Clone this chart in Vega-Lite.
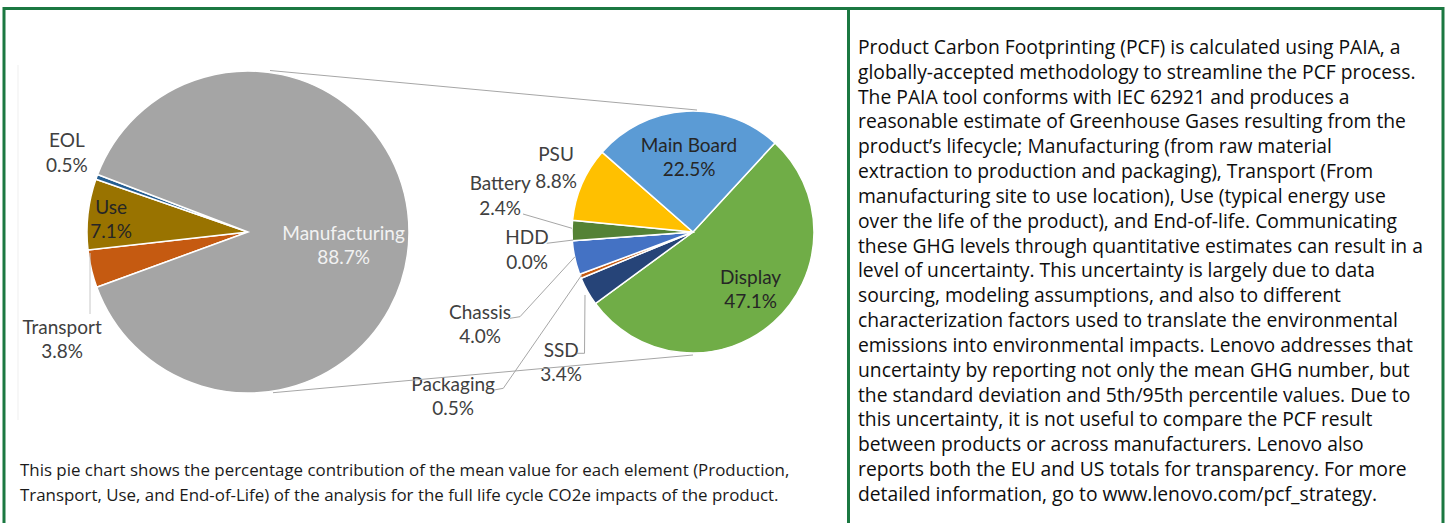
{
  "$schema": "https://vega.github.io/schema/vega-lite/v6.json",
  "width": 1445,
  "height": 523,
  "autosize": {"type": "none"},
  "padding": 0,
  "background": "white",
  "config": {"view": {"stroke": null}},
  "layer": [
    {
      "data": {"values": [
        {"name": "Transport", "value": 3.8, "ord": 1},
        {"name": "Use", "value": 7.1, "ord": 2},
        {"name": "EOL", "value": 0.5, "ord": 3},
        {"name": "Manufacturing", "value": 88.7, "ord": 4}
      ]},
      "transform": [{"calculate": "datum.name + '\\n' + format(datum.value, '.1f') + '%'", "as": "label"}],
      "encoding": {
        "theta": {"field": "value", "type": "quantitative", "stack": true, "scale": {"domain": [0, 100.1], "range": [4.3621, 10.6453]}},
        "order": {"field": "ord", "type": "quantitative"},
        "color": {"field": "name", "type": "nominal", "legend": null,
          "scale": {"domain": ["Manufacturing", "Use", "Transport", "EOL", "Main Board", "PSU", "Battery", "HDD", "Chassis", "Packaging", "SSD", "Display"],
                    "range": ["#A5A5A5", "#997300", "#C55A11", "#255E91", "#5B9BD5", "#FFC000", "#548235", "#636363", "#4472C4", "#C55A11", "#264478", "#70AD47"]}}
      },
      "layer": [
        {"mark": {"type": "arc", "x": 248, "y": 232, "outerRadius": 161, "stroke": "#FFFFFF", "strokeWidth": 1.5}},
        {"mark": {"type": "text", "x": 248, "y": 232, "radius": 96.5, "thetaOffset": 0.133, "dy": -12, "font": "Lato", "fontSize": 19, "lineBreak": "\n", "lineHeight": 24, "align": "center", "baseline": "middle"},
         "encoding": {"text": {"condition": {"test": "datum.name === 'Manufacturing'", "field": "label"}, "value": ""}, "color": {"value": "#F2F2F2"}}},
        {"mark": {"type": "text", "x": 248, "y": 232, "radius": 137.5, "thetaOffset": -0.024, "dy": -12, "font": "Lato", "fontSize": 19, "lineBreak": "\n", "lineHeight": 24, "align": "center", "baseline": "middle"},
         "encoding": {"text": {"condition": {"test": "datum.name === 'Use'", "field": "label"}, "value": ""}, "color": {"value": "#262626"}}},
        {"mark": {"type": "text", "x": 248, "y": 232, "radius": 197.7, "thetaOffset": 0.063, "dy": -12, "font": "Lato", "fontSize": 19, "lineBreak": "\n", "lineHeight": 25, "align": "center", "baseline": "middle"},
         "encoding": {"text": {"condition": {"test": "datum.name === 'EOL'", "field": "label"}, "value": ""}, "color": {"value": "#404040"}}},
        {"mark": {"type": "text", "x": 248, "y": 232, "radius": 215, "thetaOffset": -0.295, "dy": -12, "font": "Lato", "fontSize": 19, "lineBreak": "\n", "lineHeight": 24, "align": "center", "baseline": "middle"},
         "encoding": {"text": {"condition": {"test": "datum.name === 'Transport'", "field": "label"}, "value": ""}, "color": {"value": "#404040"}}}
      ]
    },
    {
      "data": {"values": [
        {"name": "Display", "value": 47.1, "ord": 1},
        {"name": "SSD", "value": 3.4, "ord": 2},
        {"name": "Packaging", "value": 0.5, "ord": 3},
        {"name": "Chassis", "value": 4.0, "ord": 4},
        {"name": "HDD", "value": 0.0, "ord": 5},
        {"name": "Battery", "value": 2.4, "ord": 6},
        {"name": "PSU", "value": 8.8, "ord": 7},
        {"name": "Main Board", "value": 22.5, "ord": 8}
      ]},
      "transform": [{"calculate": "datum.name + '\\n' + format(datum.value, '.1f') + '%'", "as": "label"}],
      "encoding": {
        "theta": {"field": "value", "type": "quantitative", "stack": true, "scale": {"domain": [0, 88.7], "range": [0.7435, 7.0267]}},
        "order": {"field": "ord", "type": "quantitative"},
        "color": {"field": "name", "type": "nominal", "legend": null,
          "scale": {"domain": ["Manufacturing", "Use", "Transport", "EOL", "Main Board", "PSU", "Battery", "HDD", "Chassis", "Packaging", "SSD", "Display"],
                    "range": ["#A5A5A5", "#997300", "#C55A11", "#255E91", "#5B9BD5", "#FFC000", "#548235", "#636363", "#4472C4", "#C55A11", "#264478", "#70AD47"]}}
      },
      "layer": [
        {"mark": {"type": "arc", "x": 693, "y": 232, "outerRadius": 121, "stroke": "#FFFFFF", "strokeWidth": 1.5}},
        {"mark": {"type": "text", "x": 693, "y": 232, "radius": 74, "thetaOffset": 0.0, "dy": -12, "font": "Lato", "fontSize": 19, "lineBreak": "\n", "lineHeight": 24, "align": "center", "baseline": "middle"},
         "encoding": {"text": {"condition": {"test": "datum.name === 'Main Board'", "field": "label"}, "value": ""}, "color": {"value": "#262626"}}},
        {"mark": {"type": "text", "x": 693, "y": 232, "radius": 81.7, "thetaOffset": -0.052, "dy": -12, "font": "Lato", "fontSize": 19, "lineBreak": "\n", "lineHeight": 24, "align": "center", "baseline": "middle"},
         "encoding": {"text": {"condition": {"test": "datum.name === 'Display'", "field": "label"}, "value": ""}, "color": {"value": "#262626"}}},
        {"mark": {"type": "text", "x": 693, "y": 232, "radius": 151, "thetaOffset": 0.026, "dy": -13.5, "font": "Lato", "fontSize": 19, "lineBreak": "\n", "lineHeight": 27, "align": "center", "baseline": "middle"},
         "encoding": {"text": {"condition": {"test": "datum.name === 'PSU'", "field": "label"}, "value": ""}, "color": {"value": "#404040"}}},
        {"mark": {"type": "text", "x": 693, "y": 232, "radius": 196, "thetaOffset": 0.169, "dy": -12.5, "font": "Lato", "fontSize": 19, "lineBreak": "\n", "lineHeight": 25, "align": "center", "baseline": "middle"},
         "encoding": {"text": {"condition": {"test": "datum.name === 'Battery'", "field": "label"}, "value": ""}, "color": {"value": "#404040"}}},
        {"mark": {"type": "text", "x": 693, "y": 232, "radius": 167, "thetaOffset": -0.038, "dy": -12.5, "font": "Lato", "fontSize": 19, "lineBreak": "\n", "lineHeight": 25, "align": "center", "baseline": "middle"},
         "encoding": {"text": {"condition": {"test": "datum.name === 'HDD'", "field": "label"}, "value": ""}, "color": {"value": "#404040"}}},
        {"mark": {"type": "text", "x": 693, "y": 232, "radius": 232.4, "thetaOffset": -0.197, "dy": -12, "font": "Lato", "fontSize": 19, "lineBreak": "\n", "lineHeight": 24, "align": "center", "baseline": "middle"},
         "encoding": {"text": {"condition": {"test": "datum.name === 'Chassis'", "field": "label"}, "value": ""}, "color": {"value": "#404040"}}},
        {"mark": {"type": "text", "x": 693, "y": 232, "radius": 291.2, "thetaOffset": -0.229, "dy": -12, "font": "Lato", "fontSize": 19, "lineBreak": "\n", "lineHeight": 24, "align": "center", "baseline": "middle"},
         "encoding": {"text": {"condition": {"test": "datum.name === 'Packaging'", "field": "label"}, "value": ""}, "color": {"value": "#404040"}}},
        {"mark": {"type": "text", "x": 693, "y": 232, "radius": 186, "thetaOffset": -0.271, "dy": -12, "font": "Lato", "fontSize": 19, "lineBreak": "\n", "lineHeight": 24, "align": "center", "baseline": "middle"},
         "encoding": {"text": {"condition": {"test": "datum.name === 'SSD'", "field": "label"}, "value": ""}, "color": {"value": "#404040"}}}
      ]
    },
    {"data": {"values": [{}]}, "mark": {"type": "rule", "stroke": "#A6A6A6", "strokeWidth": 1}, "encoding": {"x": {"value": 270}, "y": {"value": 70.5}, "x2": {"value": 697}, "y2": {"value": 110}}},
    {"data": {"values": [{}]}, "mark": {"type": "rule", "stroke": "#A6A6A6", "strokeWidth": 1}, "encoding": {"x": {"value": 273}, "y": {"value": 392.7}, "x2": {"value": 693}, "y2": {"value": 355}}},
    {"data": {"values": [{}]}, "mark": {"type": "rule", "stroke": "#C8C8C8", "strokeWidth": 1}, "encoding": {"x": {"value": 90}, "y": {"value": 253}, "x2": {"value": 90}, "y2": {"value": 314}}},
    {"data": {"values": [{}]}, "mark": {"type": "rule", "stroke": "#EFEFEF", "strokeWidth": 1}, "encoding": {"x": {"value": 18}, "y": {"value": 65}, "x2": {"value": 18}, "y2": {"value": 420}}},
    {"data": {"values": [{}]}, "mark": {"type": "rule", "stroke": "#A6A6A6", "strokeWidth": 1}, "encoding": {"x": {"value": 523}, "y": {"value": 214}, "x2": {"value": 572}, "y2": {"value": 228.3}}},
    {"data": {"values": [{}]}, "mark": {"type": "rule", "stroke": "#A6A6A6", "strokeWidth": 1}, "encoding": {"x": {"value": 546.7}, "y": {"value": 243.3}, "x2": {"value": 573.3}, "y2": {"value": 240}}},
    {"data": {"values": [{}]}, "mark": {"type": "rule", "stroke": "#A6A6A6", "strokeWidth": 1}, "encoding": {"x": {"value": 510}, "y": {"value": 318.3}, "x2": {"value": 520}, "y2": {"value": 316.7}}},
    {"data": {"values": [{}]}, "mark": {"type": "rule", "stroke": "#A6A6A6", "strokeWidth": 1}, "encoding": {"x": {"value": 520}, "y": {"value": 316.7}, "x2": {"value": 575}, "y2": {"value": 256.7}}},
    {"data": {"values": [{}]}, "mark": {"type": "rule", "stroke": "#A6A6A6", "strokeWidth": 1}, "encoding": {"x": {"value": 494}, "y": {"value": 390}, "x2": {"value": 503.3}, "y2": {"value": 388.3}}},
    {"data": {"values": [{}]}, "mark": {"type": "rule", "stroke": "#A6A6A6", "strokeWidth": 1}, "encoding": {"x": {"value": 503.3}, "y": {"value": 388.3}, "x2": {"value": 581.7}, "y2": {"value": 275}}},
    {"data": {"values": [{}]}, "mark": {"type": "rule", "stroke": "#A6A6A6", "strokeWidth": 1}, "encoding": {"x": {"value": 576.7}, "y": {"value": 353.3}, "x2": {"value": 584.5}, "y2": {"value": 353.3}}},
    {"data": {"values": [{}]}, "mark": {"type": "rule", "stroke": "#A6A6A6", "strokeWidth": 1}, "encoding": {"x": {"value": 584.5}, "y": {"value": 353.3}, "x2": {"value": 585}, "y2": {"value": 295}}},
    {"data": {"values": [{}]}, "mark": {"type": "text", "x": 20, "y": 476, "align": "left", "baseline": "alphabetic", "font": "Open Sans", "fontSize": 16.9, "lineHeight": 25, "fill": "#1A1A1A",
      "text": ["This pie chart shows the percentage contribution of the mean value for each element (Production,", "Transport, Use, and End-of-Life) of the analysis for the full life cycle CO2e impacts of the product."]}, "encoding": {}},
    {"data": {"values": [{}]}, "mark": {"type": "text", "x": 858, "y": 54, "align": "left", "baseline": "alphabetic", "font": "Open Sans", "fontSize": 19.3, "lineHeight": 24.83, "fill": "#0D0D0D",
      "text": [
        "Product Carbon Footprinting (PCF) is calculated using PAIA, a",
        "globally-accepted methodology to streamline the PCF process.",
        "The PAIA tool conforms with IEC 62921 and produces a",
        "reasonable estimate of Greenhouse Gases resulting from the",
        "product’s lifecycle; Manufacturing (from raw material",
        "extraction to production and packaging), Transport (From",
        "manufacturing site to use location), Use (typical energy use",
        "over the life of the product), and End-of-life. Communicating",
        "these GHG levels through quantitative estimates can result in a",
        "level of uncertainty. This uncertainty is largely due to data",
        "sourcing, modeling assumptions, and also to different",
        "characterization factors used to translate the environmental",
        "emissions into environmental impacts. Lenovo addresses that",
        "uncertainty by reporting not only the mean GHG number, but",
        "the standard deviation and 5th/95th percentile values. Due to",
        "this uncertainty, it is not useful to compare the PCF result",
        "between products or across manufacturers. Lenovo also",
        "reports both the EU and US totals for transparency. For more",
        "detailed information, go to www.lenovo.com/pcf_strategy."
      ]}, "encoding": {}},
    {"data": {"values": [{}]}, "mark": {"type": "rect", "x": 4, "y": 8.5, "x2": 848.5, "y2": 540, "filled": false, "stroke": "#1B7841", "strokeWidth": 3}, "encoding": {}},
    {"data": {"values": [{}]}, "mark": {"type": "rect", "x": 848.5, "y": 8.5, "x2": 1443, "y2": 540, "filled": false, "stroke": "#1B7841", "strokeWidth": 3}, "encoding": {}}
  ],
  "resolve": {"scale": {"theta": "independent"}}
}
